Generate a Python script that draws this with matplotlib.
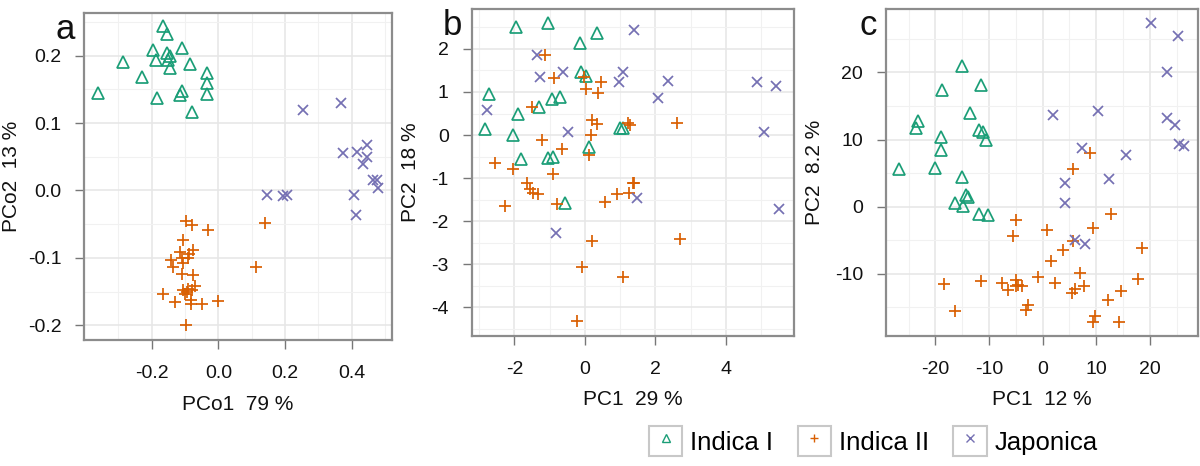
import numpy as np
import matplotlib
matplotlib.use('Agg')
import matplotlib.pyplot as plt
from matplotlib.lines import Line2D
from matplotlib.patches import Rectangle
from matplotlib.legend_handler import HandlerTuple

plt.rcParams['font.family'] = ['Liberation Sans', 'DejaVu Sans']

# colours / groups
GROUPS = ['Indica I', 'Indica II', 'Japonica']
COLORS = ['#1B9E77', '#D95F02', '#7570B3']
MARKERS = ['^', '+', 'x']

# ---- panel a : PCoA ----
a_ind1_x = [-0.362, -0.285, -0.229, -0.184, -0.195, -0.187, -0.165, -0.155, -0.155, -0.145,
            -0.150, -0.145, -0.108, -0.085, -0.110, -0.115, -0.080, -0.033, -0.033, -0.035]
a_ind1_y = [0.145, 0.191, 0.169, 0.137, 0.209, 0.194, 0.244, 0.232, 0.204, 0.199,
            0.194, 0.182, 0.211, 0.188, 0.148, 0.142, 0.116, 0.174, 0.159, 0.143]
a_ind2_x = [-0.098, -0.080, -0.030, -0.107, 0.140, -0.075, -0.088, -0.115, -0.110, -0.143,
            -0.135, -0.107, -0.090, 0.113, -0.108, -0.075, -0.070, -0.092, -0.105, -0.100,
            -0.095, -0.165, -0.130, -0.083, -0.050, 0.000, -0.082, -0.098, -0.080]
a_ind2_y = [-0.046, -0.051, -0.059, -0.074, -0.049, -0.089, -0.094, -0.092, -0.101, -0.103,
            -0.114, -0.107, -0.101, -0.113, -0.124, -0.126, -0.142, -0.146, -0.148, -0.153,
            -0.150, -0.154, -0.165, -0.163, -0.168, -0.164, -0.169, -0.200, -0.148]
a_jap_x = [0.255, 0.368, 0.375, 0.415, 0.447, 0.445, 0.435, 0.463, 0.475, 0.478,
           0.408, 0.412, 0.145, 0.195, 0.205]
a_jap_y = [0.120, 0.130, 0.055, 0.057, 0.067, 0.050, 0.040, 0.016, 0.016, 0.004,
           -0.007, -0.036, -0.006, -0.008, -0.006]

# ---- panel b : PCA ----
b_ind1_x = [-1.96, -1.04, -0.14, 0.33, -2.72, -1.89, -2.82, -2.03, -1.30, -0.93,
            -0.71, -1.82, -1.06, -0.90, -0.11, 0.02, 0.12, -0.57, 0.99, 1.07]
b_ind1_y = [2.51, 2.61, 2.13, 2.37, 0.95, 0.48, 0.13, 0.00, 0.64, 0.84,
            0.89, -0.56, -0.54, -0.50, 1.47, 1.37, -0.27, -1.57, 0.17, 0.17]
b_ind2_x = [-1.12, -0.88, -1.51, -1.23, -0.66, -2.55, -2.03, -0.90, -1.65, -1.56,
            -1.47, -1.32, -0.03, 0.45, 0.03, 0.36, 0.19, 0.35, 0.16, 0.12,
            1.23, 1.28, 2.62, 1.39, 1.26, 0.90, -2.27, -0.80, 0.57, 1.37,
            0.19, 2.70, -0.09, 1.07, -0.21]
b_ind2_y = [1.86, 1.32, 0.66, -0.12, -0.33, -0.64, -0.80, -0.90, -1.11, -1.26,
            -1.34, -1.38, 1.35, 1.24, 1.08, 0.98, 0.36, 0.26, 0.00, -0.46,
            0.27, 0.23, 0.27, -1.11, -1.34, -1.38, -1.65, -1.60, -1.55, -1.12,
            -2.46, -2.41, -3.06, -3.29, -4.33]
b_jap_x = [-1.37, -1.28, -0.62, -2.79, -0.47, 1.40, 1.07, 0.96, 2.36, 2.06,
           4.87, 5.42, 5.09, 1.47, -0.82, 5.51]
b_jap_y = [1.86, 1.35, 1.47, 0.58, 0.08, 2.44, 1.47, 1.24, 1.25, 0.87,
           1.24, 1.14, 0.08, -1.47, -2.28, -1.72]

# ---- panel c : PCA ----
c_ind1_x = [-15.0, -11.4, -18.8, -13.6, -23.2, -23.6, -11.9, -11.2, -10.6, -19.0,
            -19.0, -26.8, -20.1, -15.1, -14.2, -13.9, -16.4, -14.8, -11.8, -10.1]
c_ind1_y = [20.9, 18.2, 17.4, 13.9, 12.8, 11.8, 11.5, 11.2, 9.9, 10.4,
            8.4, 5.6, 5.7, 4.4, 1.7, 1.5, 0.6, 0.1, -1.1, -1.2]
c_ind2_x = [8.8, 5.7, 12.7, -4.9, 0.9, 9.3, -5.5, 5.7, 3.8, 18.5,
            1.5, 7.0, -0.8, -18.4, -11.4, -7.6, -6.4, -4.9, -4.6, -3.9,
            -5.0, 2.3, 7.7, 6.0, 5.4, 14.6, 17.8, 12.2, -16.4, -2.7,
            -3.1, 9.8, 9.4, 14.3]
c_ind2_y = [8.0, 5.6, -1.1, -2.0, -3.4, -3.1, -4.4, -5.1, -6.5, -6.2,
            -8.1, -9.8, -10.4, -11.5, -11.1, -11.4, -12.4, -10.9, -11.7, -11.8,
            -11.8, -11.4, -11.8, -12.3, -12.9, -12.5, -10.8, -13.9, -15.5, -14.6,
            -15.4, -16.3, -17.1, -17.1]
c_jap_x = [20.2, 25.3, 23.2, 1.9, 10.3, 23.1, 24.7, 25.5, 26.4, 7.4,
           15.5, 12.4, 4.2, 4.2, 6.0, 7.9]
c_jap_y = [27.3, 25.4, 20.1, 13.7, 14.3, 13.2, 12.1, 9.3, 9.1, 8.8,
           7.7, 4.1, 3.6, 0.6, -4.9, -5.5]

W, H = 1200, 466
fig = plt.figure(figsize=(W / 100, H / 100), dpi=100)


def px_axes(left, top, right, bottom):
    return fig.add_axes([left / W, (H - bottom) / H, (right - left) / W, (bottom - top) / H])


def style_panel(ax, xlim, ylim, xmaj, xmin, ymaj, ymin, xlabel, ylabel, letter, ylabelpad):
    ax.set_xlim(*xlim)
    ax.set_ylim(*ylim)
    ax.set_xticks(xmaj)
    ax.set_yticks(ymaj)
    ax.set_xticks(xmin, minor=True)
    ax.set_yticks(ymin, minor=True)
    ax.tick_params(which='minor', length=0)
    ax.tick_params(which='major', direction='out', length=6.5, width=1.0, color='#777777',
                   labelsize=14, pad=10, labelcolor='#111111')
    ax.tick_params(axis='x', which='major', pad=11.5)
    ax.grid(True, which='major', color='#e6e6e6', linewidth=1.1)
    ax.grid(True, which='minor', color='#f1f1f1', linewidth=0.8)
    ax.set_axisbelow(True)
    for s in ax.spines.values():
        s.set_color('#8c8c8c')
        s.set_linewidth(1.6)
    ax.set_xlabel(xlabel, fontsize=15, labelpad=9, color='#111111')
    ax.set_ylabel(ylabel, fontsize=15, labelpad=ylabelpad, color='#111111')
    ax.text(-0.03, 1.0, letter, transform=ax.transAxes, fontsize=25, ha='right', va='top',
            color='#111111')


def scatter_groups(ax, data):
    for (xs, ys), col, mk in zip(data, COLORS, MARKERS):
        ms = 8.4 if mk == '^' else (9 if mk == '+' else 7.8)
        ax.plot(xs, ys, linestyle='none', marker=mk, markersize=ms, markerfacecolor='none',
                markeredgecolor=col, markeredgewidth=1.25, zorder=3)


ax_a = px_axes(84.3, 13.3, 391.7, 340)
scatter_groups(ax_a, [(a_ind1_x, a_ind1_y), (a_ind2_x, a_ind2_y), (a_jap_x, a_jap_y)])
style_panel(ax_a, (-0.402, 0.52), (-0.222, 0.263),
            [-0.2, 0.0, 0.2, 0.4], [-0.3, -0.1, 0.1, 0.3, 0.5],
            [-0.2, -0.1, 0.0, 0.1, 0.2], [-0.15, -0.05, 0.05, 0.15, 0.25],
            'PCo1  79 %', 'PCo2  13 %', 'a', 5)
ax_a.set_xticklabels(['-0.2', '0.0', '0.2', '0.4'])
ax_a.set_yticklabels(['-0.2', '-0.1', '0.0', '0.1', '0.2'])

ax_b = px_axes(471.7, 9.3, 794.3, 335.7)
scatter_groups(ax_b, [(b_ind1_x, b_ind1_y), (b_ind2_x, b_ind2_y), (b_jap_x, b_jap_y)])
style_panel(ax_b, (-3.21, 5.94), (-4.66, 2.92),
            [-2, 0, 2, 4], [-3, -1, 1, 3, 5],
            [-4, -3, -2, -1, 0, 1, 2], [-4.5, -3.5, -2.5, -1.5, -0.5, 0.5, 1.5, 2.5],
            'PC1  29 %', 'PC2  18 %', 'b', 8)
ax_b.set_xticklabels(['-2', '0', '2', '4'])
ax_b.set_yticklabels(['-4', '-3', '-2', '-1', '0', '1', '2'])

ax_c = px_axes(886, 9.3, 1197.7, 335.7)
scatter_groups(ax_c, [(c_ind1_x, c_ind1_y), (c_ind2_x, c_ind2_y), (c_jap_x, c_jap_y)])
style_panel(ax_c, (-29.2, 28.9), (-19.2, 29.4),
            [-20, -10, 0, 10, 20], [-25, -15, -5, 5, 15, 25],
            [-10, 0, 10, 20], [-15, -5, 5, 15, 25],
            'PC1  12 %', 'PC2  8.2 %', 'c', 8)
ax_c.set_xticklabels(['-20', '-10', '0', '10', '20'])
ax_c.set_yticklabels(['-10', '0', '10', '20'])

# legend with boxed keys
handles = []
for col, mk in zip(COLORS, MARKERS):
    box = Rectangle((0, 0), 1, 1, facecolor='white', edgecolor='#c8c8c8', linewidth=1.5)
    mark = Line2D([], [], linestyle='none', marker=mk, markersize=5.5, markerfacecolor='none',
                  markeredgecolor=col, markeredgewidth=1.0)
    handles.append((box, mark))
fig.legend(handles, GROUPS, handler_map={tuple: HandlerTuple(ndivide=1, pad=0)},
           loc='center left', bbox_to_anchor=(649 / W, (H - 441) / H), ncol=3,
           frameon=False, fontsize=18.5, handlelength=1.3, handleheight=1.45,
           handletextpad=0.3, columnspacing=0.95, borderpad=0, borderaxespad=0)

fig.savefig('out.png', dpi=100)
